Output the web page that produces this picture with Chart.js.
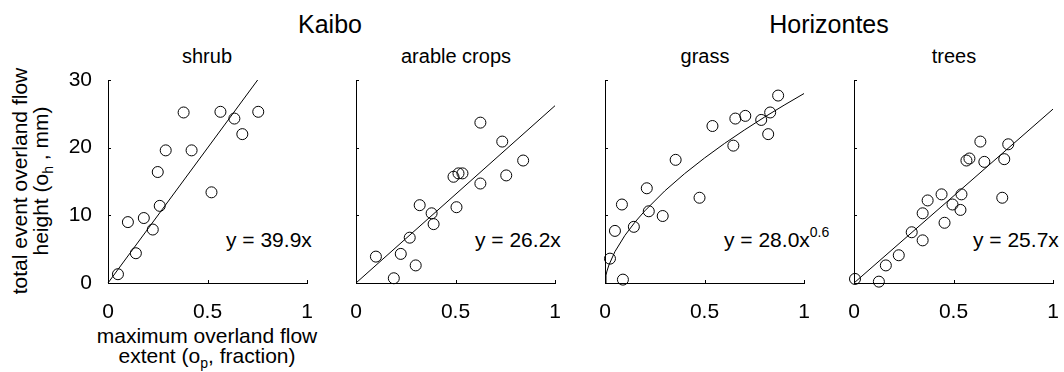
<!DOCTYPE html>
<html>
<head>
<meta charset="utf-8">
<script src="https://cdn.jsdelivr.net/npm/chart.js@4.4.1/dist/chart.umd.min.js"></script>
<style>
  html, body { margin: 0; padding: 0; background: #fff; width: 1064px; height: 372px; overflow: hidden; }
  body { position: relative; font-family: 'Liberation Sans', Arial, Helvetica, sans-serif; color: #000; }
  canvas { position: absolute; }
  .t { position: absolute; white-space: nowrap; }
  .grp { font-size: 25px; line-height: 24px; top: 12px; width: 300px; text-align: center; }
  .sub { font-size: 20px; line-height: 20px; top: 46px; width: 200px; text-align: center; }
  .eq { font-size: 21px; line-height: 20px; top: 230px; }
  .eq .sp { font-size: 14px; position: relative; top: -10px; }
  .ytitle { font-size: 21px; line-height: 21px; width: 260px; height: 42px; left: -100px; top: 160px; text-align: center; transform: rotate(-90deg); }
  .xtitle { font-size: 21px; line-height: 20px; width: 260px; left: 77px; top: 326px; text-align: center; }
  .sb { font-size: 14px; position: relative; top: 5px; }
</style>
</head>
<body>
<div class="t grp" style="left:180px;">Kaibo</div>
<div class="t grp" style="left:679px;">Horizontes</div>
<div class="t sub" style="left:107px;">shrub</div>
<div class="t sub" style="left:356px;">arable crops</div>
<div class="t sub" style="left:605px;">grass</div>
<div class="t sub" style="left:854px;">trees</div>
<div class="t eq" style="left:226px;">y = 39.9x</div>
<div class="t eq" style="left:475px;">y = 26.2x</div>
<div class="t eq" style="left:724px;">y = 28.0x<span class="sp">0.6</span></div>
<div class="t eq" style="left:973px;">y = 25.7x</div>
<div class="t ytitle">total event overland flow<br>height (o<span class="sb">h</span> , mm)</div>
<div class="t xtitle">maximum overland flow<br>extent (o<span class="sb">p</span>, fraction)</div>

<script>
// ---------- data ----------
const xTickValues = [0, 0.5, 1];
const xTickLabels = ['0', '0.5', '1'];
const yTickValues = [0, 10, 20, 30];
const yTickLabels = ['0', '10', '20', '30'];

const shrubX = [0.05, 0.10, 0.14, 0.18, 0.225, 0.25, 0.26, 0.29, 0.38, 0.42, 0.52, 0.565, 0.635, 0.675, 0.755];
const shrubY = [1.3, 9.0, 4.4, 9.6, 7.9, 16.4, 11.4, 19.6, 25.2, 19.6, 13.4, 25.3, 24.3, 22.0, 25.3];
const shrubFitX = [0, 0.752];
const shrubFitY = [0, 30];

const cropsX = [0.10, 0.19, 0.225, 0.27, 0.30, 0.32, 0.38, 0.39, 0.49, 0.505, 0.515, 0.535, 0.625, 0.625, 0.735, 0.755, 0.84];
const cropsY = [3.9, 0.7, 4.3, 6.7, 2.6, 11.5, 10.3, 8.7, 15.7, 11.2, 16.2, 16.2, 14.7, 23.7, 20.9, 15.9, 18.1];
const cropsFitX = [0, 1];
const cropsFitY = [0, 26.2];

const grassX = [0.025, 0.05, 0.085, 0.09, 0.145, 0.21, 0.22, 0.29, 0.355, 0.475, 0.54, 0.645, 0.655, 0.705, 0.785, 0.82, 0.83, 0.87];
const grassY = [3.6, 7.7, 11.6, 0.5, 8.3, 14.0, 10.6, 9.9, 18.2, 12.6, 23.2, 20.3, 24.3, 24.7, 24.1, 22.0, 25.2, 27.7];
const grassFitX = [0, 0.005, 0.01, 0.02, 0.05, 0.1, 0.15, 0.2, 0.3, 0.4, 0.5, 0.6, 0.7, 0.8, 0.9, 1.0];
const grassFitY = [0, 1.16, 1.77, 2.68, 4.64, 7.03, 8.97, 10.66, 13.60, 16.16, 18.47, 20.61, 22.60, 24.49, 26.28, 28.0];

const treesX = [0.005, 0.125, 0.16, 0.225, 0.29, 0.345, 0.345, 0.37, 0.44, 0.455, 0.495, 0.535, 0.54, 0.565, 0.58, 0.635, 0.655, 0.745, 0.755, 0.775];
const treesY = [0.6, 0.2, 2.6, 4.1, 7.5, 6.3, 10.3, 12.2, 13.1, 8.9, 11.6, 10.8, 13.1, 18.1, 18.4, 20.9, 17.9, 12.6, 18.3, 20.5];
const treesFitX = [0, 1];
const treesFitY = [0, 25.7];

// ---------- layout ----------
const FONT = "'Liberation Sans', Arial, Helvetica, sans-serif";
const panelLefts = [108, 356, 605, 854];
const PLOT_W = 199, PLOT_TOP = 80, PLOT_H = 203;
const PAD_L = 60, PAD_T = 30, PAD_R = 24, PAD_B = 40;

const pts = (xs, ys) => xs.map((x, i) => ({ x: x, y: ys[i] }));

const inwardTicks = {
  id: 'inwardTicks',
  afterDraw(chart) {
    const { ctx, scales: { x, y }, chartArea: a } = chart;
    ctx.save();
    ctx.strokeStyle = '#000';
    ctx.lineWidth = 1;
    ctx.beginPath();
    xTickValues.forEach(v => {
      const px = Math.round(x.getPixelForValue(v)) + 0.5;
      ctx.moveTo(px, a.bottom);
      ctx.lineTo(px, a.bottom - 3);
    });
    yTickValues.forEach(v => {
      const py = Math.round(y.getPixelForValue(v)) + 0.5;
      ctx.moveTo(a.left, py);
      ctx.lineTo(a.left + 3, py);
    });
    ctx.stroke();
    ctx.restore();
  }
};

const panels = [
  { sx: shrubX, sy: shrubY, fx: shrubFitX, fy: shrubFitY, yLabels: true },
  { sx: cropsX, sy: cropsY, fx: cropsFitX, fy: cropsFitY, yLabels: false },
  { sx: grassX, sy: grassY, fx: grassFitX, fy: grassFitY, yLabels: false },
  { sx: treesX, sy: treesY, fx: treesFitX, fy: treesFitY, yLabels: false }
];

panels.forEach((p, i) => {
  const c = document.createElement('canvas');
  const w = PAD_L + PLOT_W + PAD_R, h = PAD_T + PLOT_H + PAD_B;
  c.width = w; c.height = h;
  c.style.width = w + 'px'; c.style.height = h + 'px';
  c.style.left = (panelLefts[i] - PAD_L) + 'px';
  c.style.top = (PLOT_TOP - PAD_T) + 'px';
  document.body.appendChild(c);

  new Chart(c, {
    type: 'scatter',
    data: {
      datasets: [
        {
          data: pts(p.sx, p.sy),
          showLine: false,
          pointStyle: 'circle',
          pointRadius: 5.5,
          pointHoverRadius: 5.5,
          borderWidth: 1,
          borderColor: '#000',
          backgroundColor: 'rgba(0,0,0,0)',
          clip: false
        },
        {
          data: pts(p.fx, p.fy),
          showLine: true,
          pointRadius: 0,
          borderWidth: 1,
          borderColor: '#000',
          tension: 0,
          clip: false
        }
      ]
    },
    options: {
      responsive: false,
      animation: false,
      events: [],
      layout: { padding: { left: 0, top: PAD_T, right: PAD_R, bottom: 0 } },
      plugins: { legend: { display: false }, tooltip: { enabled: false } },
      scales: {
        x: {
          type: 'linear',
          min: 0, max: 1,
          afterBuildTicks: s => { s.ticks = xTickValues.map(v => ({ value: v })); },
          afterFit: s => { s.height = PAD_B; },
          grid: { display: false },
          border: { display: true, color: '#000', width: 1 },
          ticks: {
            autoSkip: false, maxRotation: 0, padding: 9,
            color: '#000', font: { family: FONT, size: 21 },
            callback: (v) => xTickLabels[xTickValues.indexOf(v)]
          }
        },
        y: {
          type: 'linear',
          min: 0, max: 30,
          afterBuildTicks: s => { s.ticks = yTickValues.map(v => ({ value: v })); },
          afterFit: s => { s.width = PAD_L; },
          grid: { display: false },
          border: { display: true, color: '#000', width: 1 },
          ticks: {
            display: p.yLabels,
            autoSkip: false, padding: 8,
            color: '#000', font: { family: FONT, size: 21 },
            callback: (v) => yTickLabels[yTickValues.indexOf(v)]
          }
        }
      }
    },
    plugins: [inwardTicks]
  });
});
</script>
</body>
</html>
